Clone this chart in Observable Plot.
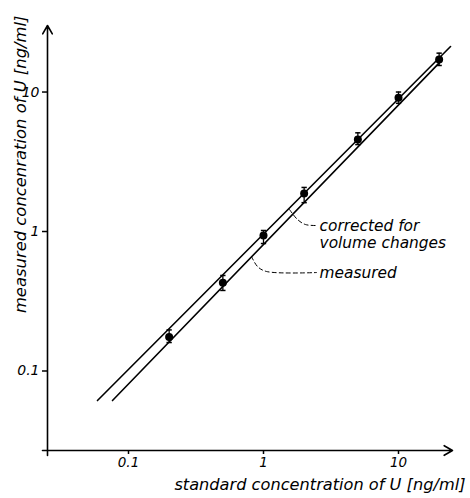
<!DOCTYPE html>
<html>
<head>
<meta charset="utf-8">
<script src="https://cdn.jsdelivr.net/npm/d3@7"></script>
<script src="https://cdn.jsdelivr.net/npm/@observablehq/plot@0.6"></script>
<style>
  html, body { margin: 0; padding: 0; background: #fff; }
  #chart { width: 470px; height: 498px; }
</style>
</head>
<body>
<div id="chart"></div>
<script>
// ---- data ----
const standardConc = [0.2, 0.5, 1, 2, 5, 10, 20];
const measuredConc = [0.175, 0.43, 0.935, 1.87, 4.57, 9.1, 17.1];
const errLow  = [0.16, 0.378, 0.82, 1.61, 4.2, 8.3, 15.5];
const errHigh = [0.197, 0.484, 1.017, 2.07, 5.1, 10.0, 19.0];

// fitted lines (end points)
const measuredLineX = [0.0761, 20.8];
const measuredLineY = [0.0614, 16.8];
const correctedLineX = [0.0589, 24.3];
const correctedLineY = [0.0614, 21.2];

// annotations
const annoText = ["corrected for", "volume changes", "measured"];
const annoX = [2.6, 2.6, 2.6];
const annoY = [1.086, 0.82, 0.5];
const leaderCorrX = [1.558, 1.786, 2.047, 2.47];
const leaderCorrY = [1.438, 1.219, 1.122, 1.104];
const leaderMeasX = [0.815, 0.903, 1.052, 2.47];
const leaderMeasY = [0.662, 0.561, 0.517, 0.508];

const tickValues = [0.1, 1, 10];
const xDomain = [Math.pow(10, -1.6), Math.pow(10, 1.4)];
const yDomain = [Math.pow(10, -1.570), Math.pow(10, 1.477)];
const xLabel = "standard concentration of U [ng/ml]";
const yLabel = "measured concenration of U [ng/ml]";

// ---- build ----
const pts = standardConc.map((x, i) => ({x, y: measuredConc[i], lo: errLow[i], hi: errHigh[i]}));
const lineData = [
  ...measuredLineX.map((x, i) => ({x, y: measuredLineY[i], s: "measured"})),
  ...correctedLineX.map((x, i) => ({x, y: correctedLineY[i], s: "corrected"}))
];
const leaders = [
  ...leaderCorrX.map((x, i) => ({x, y: leaderCorrY[i], s: "c"})),
  ...leaderMeasX.map((x, i) => ({x, y: leaderMeasY[i], s: "m"}))
];
const annos = annoText.map((t, i) => ({t, x: annoX[i], y: annoY[i]}));

const capSymbol = {
  draw(ctx, size) {
    const w = Math.sqrt(size) / 2;
    ctx.moveTo(-w, 0);
    ctx.lineTo(w, 0);
  }
};

const fontFam = "'DejaVu Sans', sans-serif";

const chart = Plot.plot({
  width: 470,
  height: 498,
  marginLeft: 47,
  marginRight: 18,
  marginTop: 25,
  marginBottom: 48,
  style: {fontFamily: fontFam, fontStyle: "italic", fontSize: "14px", color: "#000", background: "#fff"},
  x: {type: "log", domain: xDomain, label: null},
  y: {type: "log", domain: yDomain, label: null},
  marks: [
    Plot.axisY({ticks: tickValues, tickSize: 5, tickPadding: 3, tickFormat: d => `${d}`, label: null, strokeWidth: 1.5, fontSize: 14}),
    Plot.axisX({ticks: tickValues, tickSize: 4, tickPadding: 3, tickFormat: d => `${d}`, label: null, strokeWidth: 1.5, fontSize: 13.5}),
    Plot.arrow([{x1: xDomain[0], y1: yDomain[0], x2: xDomain[1], y2: yDomain[0]}], {x1: "x1", y1: "y1", x2: "x2", y2: "y2", stroke: "#000", strokeWidth: 1.6, headLength: 9, insetStart: -5}),
    Plot.arrow([{x1: xDomain[0], y1: yDomain[0], x2: xDomain[0], y2: yDomain[1]}], {x1: "x1", y1: "y1", x2: "x2", y2: "y2", stroke: "#000", strokeWidth: 1.6, headLength: 9, insetStart: -5}),
    Plot.line(lineData, {x: "x", y: "y", z: "s", stroke: "#000", strokeWidth: 1.6}),
    Plot.ruleX(pts, {x: "x", y1: "lo", y2: "hi", stroke: "#000", strokeWidth: 1.3}),
    Plot.dot(pts, {x: "x", y: "lo", symbol: capSymbol, r: 3, stroke: "#000", strokeWidth: 1.5, fill: "none"}),
    Plot.dot(pts, {x: "x", y: "hi", symbol: capSymbol, r: 3, stroke: "#000", strokeWidth: 1.5, fill: "none"}),
    Plot.dot(pts, {x: "x", y: "y", r: 4, fill: "#000", stroke: "none"}),
    Plot.line(leaders, {x: "x", y: "y", z: "s", stroke: "#000", strokeWidth: 1, strokeDasharray: "4,3", curve: "catmull-rom"}),
    Plot.text(annos, {x: "x", y: "y", text: "t", textAnchor: "start", fontSize: 15.4, fontStyle: "italic", fill: "#000"}),
    Plot.text([xLabel], {frameAnchor: "bottom-right", text: d => d, textAnchor: "end", dx: 13, dy: 39, fontSize: 16.2, fontStyle: "italic", fill: "#000"}),
    Plot.text([yLabel], {frameAnchor: "top-left", text: d => d, textAnchor: "end", rotate: -90, dx: -33, dy: -10, fontSize: 16.4, fontStyle: "italic", fill: "#000"})
  ]
});
document.getElementById("chart").appendChild(chart);
</script>
</body>
</html>
